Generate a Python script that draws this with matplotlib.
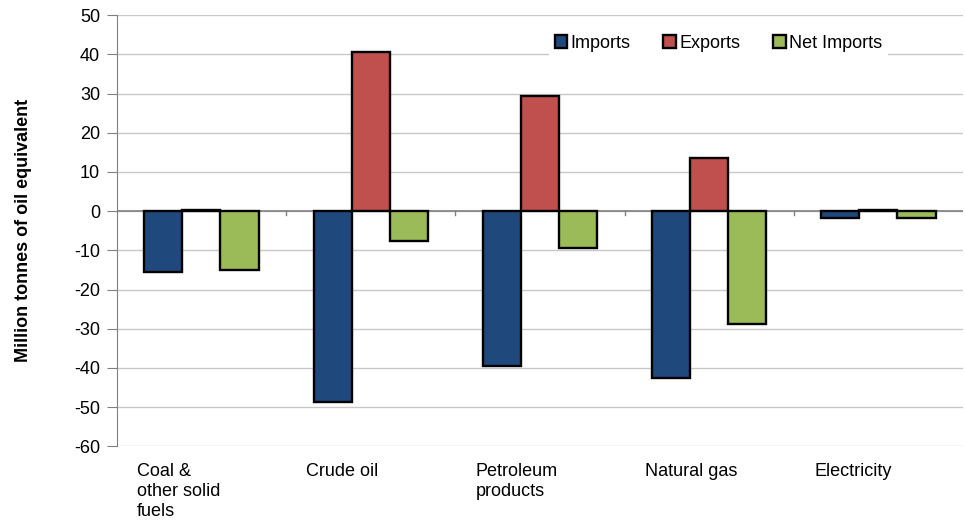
import numpy as np
import matplotlib.pyplot as plt
from matplotlib.transforms import blended_transform_factory

plt.rcParams["font.family"] = ["Liberation Sans", "DejaVu Sans"]
plt.rcParams["axes.unicode_minus"] = False

# data
categories = ["Coal &\nother solid\nfuels", "Crude oil", "Petroleum\nproducts", "Natural gas", "Electricity"]
imports = [-15.5, -48.6, -39.4, -42.5, -1.8]
exports = [0.3, 40.6, 29.3, 13.5, 0.2]
net_imports = [-15.0, -7.5, -9.5, -28.7, -1.8]

series = [("Imports", imports, "#1F497D"),
          ("Exports", exports, "#C0504D"),
          ("Net Imports", net_imports, "#9BBB59")]

fig = plt.figure(figsize=(9.65, 5.25), dpi=100)
ax = fig.add_axes([0.121, 0.150, 0.877, 0.821])

x = np.arange(len(categories))
w = 0.225
for k, (name, vals, col) in enumerate(series):
    ax.bar(x + (k - 1) * w, vals, w, color=col, edgecolor="black", linewidth=1.7,
           label=name, zorder=3)

ax.set_xlim(-0.5, len(categories) - 0.5)
ax.set_ylim(-60, 50)
ax.set_yticks(np.arange(-60, 51, 10))
ax.yaxis.grid(True, color="#c8c8c8", linewidth=1, zorder=0)
ax.axhline(0, color="#808080", linewidth=1.2, zorder=2)

for s in ["top", "right", "bottom"]:
    ax.spines[s].set_visible(False)
ax.spines["left"].set_color("#808080")
ax.tick_params(axis="y", length=7, color="#808080", labelsize=13, pad=5)
ax.set_xticks([])
# small category boundary ticks under the zero line
for b in np.arange(0.5, len(categories) - 0.5, 1):
    ax.plot([b, b], [-1.0, 0], color="#808080", linewidth=1, zorder=2)

trans = blended_transform_factory(ax.transData, ax.transAxes)
for i, lab in enumerate(categories):
    ax.text(x[i] - 0.38, -0.04, lab, transform=trans, ha="left", va="top",
            fontsize=13, linespacing=1.2)

ax.set_ylabel("Million tonnes of oil equivalent", fontsize=13, fontweight="bold")
ax.yaxis.set_label_coords(-0.10, 0.5)

leg = ax.legend(loc="center", bbox_to_anchor=(0.711, 0.935), ncol=3, fontsize=13,
                frameon=True, fancybox=False, edgecolor="none", facecolor="white",
                framealpha=1, handlelength=0.7, handleheight=0.7, handletextpad=0.2,
                columnspacing=1.8, borderpad=0.3)

fig.savefig("out.png", dpi=100)
